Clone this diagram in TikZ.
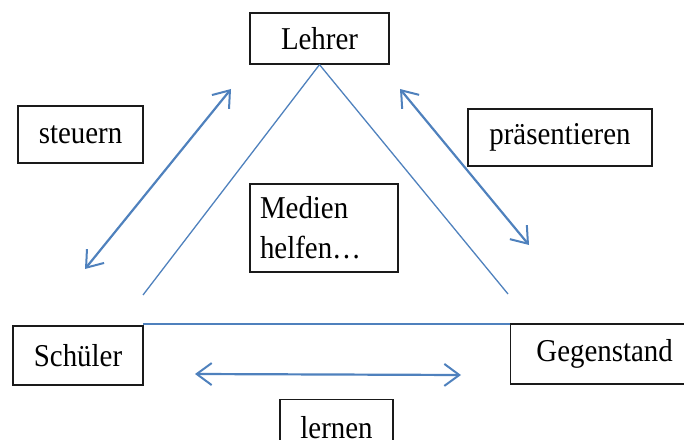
\documentclass[tikz,border=0pt]{standalone}
\usepackage{fontspec}
\usepackage{graphicx}
\setmainfont{Liberation Serif}
\usetikzlibrary{arrows.meta}
\definecolor{lineblue}{HTML}{4F81BD}
\definecolor{boxgray}{HTML}{1A1A1A}
\newcommand{\stretchtxt}[1]{\scalebox{1}[1.1]{#1}}
\begin{document}
\begin{tikzpicture}[x=1bp,y=-1bp,
  box/.style={draw=boxgray,line width=1.3bp,inner sep=0pt,font=\fontsize{29}{38}\selectfont},
  thinline/.style={draw=lineblue,line width=1.3bp},
  dblarrow/.style={draw=lineblue,line width=2.2bp,{Straight Barb[length=15bp,width=22bp,line width=2bp]}-{Straight Barb[length=15bp,width=22bp,line width=2bp]}}]
\useasboundingbox (0,0) rectangle (684,440);
\clip (0,0) rectangle (684,440);
\node[box,minimum width=139bp,minimum height=51bp] (lehrer) at (319.5,38.5) {\stretchtxt{Lehrer}};
\node[box,minimum width=125bp,minimum height=57bp] (steuern) at (80.5,134.5) {\stretchtxt{steuern}};
\node[box,minimum width=184bp,minimum height=57bp] (praes) at (560,137.5) {\stretchtxt{präsentieren}};
\node[box,minimum width=148bp,minimum height=88bp,align=left,text width=128bp,inner xsep=0pt] (medien) at (324,228) {\stretchtxt{Medien}\\[2bp]\stretchtxt{helfen…}};
\node[box,minimum width=130bp,minimum height=59bp] (schueler) at (78,355.5) {\stretchtxt{Schüler}};
\node[box,minimum width=184bp,minimum height=60bp,anchor=west] (gegen) at (510,354) {\hspace*{4bp}\stretchtxt{Gegenstand}};
\node[box,minimum width=113bp,minimum height=60bp,anchor=north] (lernen) at (336.5,399) {\raisebox{5bp}{\stretchtxt{lernen}}};
\coordinate (tl) at (143,295);
\coordinate (tr) at (508,294);
\coordinate (hl) at (143,323.7);
\coordinate (hr) at (510,323.7);
\draw[thinline] (lehrer.south) -- (tl);
\draw[thinline] (lehrer.south) -- (tr);
\draw[draw=lineblue,line width=2bp] (hl) -- (hr);
\coordinate (s1) at (231,89);
\coordinate (s2) at (85,269);
\coordinate (p1) at (400,89);
\coordinate (p2) at (529,245);
\coordinate (l1) at (195,374);
\coordinate (l2) at (461,375);
\draw[dblarrow] (s1) -- (s2);
\draw[dblarrow] (p1) -- (p2);
\draw[dblarrow] (l1) -- (l2);
\end{tikzpicture}
\end{document}
